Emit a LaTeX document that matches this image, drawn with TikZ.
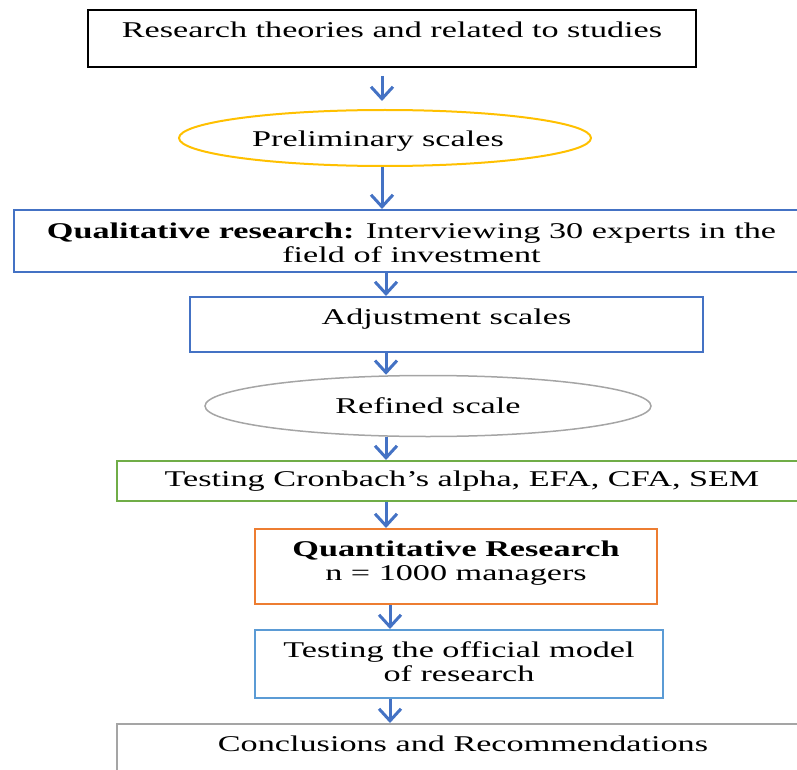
\documentclass[tikz,border=0pt]{standalone}
\usepackage{fontspec}
\setmainfont{Liberation Serif}[FakeStretch=1.52]
\usetikzlibrary{arrows.meta,shapes.geometric}
\definecolor{cblue}{HTML}{4472C4}
\definecolor{cgold}{HTML}{FFC000}
\definecolor{cgray}{HTML}{A5A5A5}
\definecolor{cgreen}{HTML}{70AD47}
\definecolor{corange}{HTML}{ED7D31}
\definecolor{clblue}{HTML}{5B9BD5}
\newcommand\boxtxt[4]{\parbox[t][#1][t]{#2}{\centering\rule{0pt}{#3}#4}}
\tikzset{
  every node/.style={font=\fontsize{22.5pt}{24pt}\selectfont},
  flowbox/.style={draw, line width=2pt, inner sep=0pt, anchor=north west},
  oval/.style={draw, ellipse, inner sep=0pt},
  arr/.style={draw=cblue, line width=3pt, -{Straight Barb[length=12pt,width=22pt]}}
}
\begin{document}
\begin{tikzpicture}[x=1pt,y=-1pt]
\useasboundingbox (0,0) rectangle (797,770);
\clip (0,0) rectangle (797,770);
\node[flowbox, draw=black] (b1) at (87,9) {\boxtxt{57pt}{608pt}{28pt}{Research theories and related to studies}};
\node[oval, draw=cgold, line width=2pt, minimum width=412pt, minimum height=56pt] (e1) at (385,138) {\raisebox{-3pt}[\height][\depth]{Preliminary scales}\hspace*{14pt}};
\node[flowbox, draw=cblue] (b3) at (13,209) {\boxtxt{62pt}{795pt}{28pt}{\textbf{Qualitative research:} Interviewing 30 experts in the\\ field of investment}};
\node[flowbox, draw=cblue] (b4) at (189,296) {\boxtxt{55pt}{513pt}{27pt}{Adjustment scales}};
\node[oval, draw=cgray, line width=1.5pt, minimum width=446pt, minimum height=61pt] (e2) at (428,406) {Refined scale};
\node[flowbox, draw=cgreen] (b6) at (116,460) {\boxtxt{40pt}{690pt}{25pt}{Testing Cronbach’s alpha, EFA, CFA, SEM}};
\node[flowbox, draw=corange] (b7) at (254,528) {\boxtxt{75pt}{402pt}{27pt}{\textbf{Quantitative Research}\\ n = 1000 managers}};
\node[flowbox, draw=clblue] (b8) at (254,629) {\boxtxt{68pt}{408pt}{27pt}{Testing the official model\\ of research}};
\node[flowbox, draw=cgray] (b9) at (116,723) {\boxtxt{80pt}{692pt}{27pt}{Conclusions and Recommendations}};
\coordinate (xa) at (382,0);
\coordinate (xb) at (386,0);
\coordinate (xc) at (390,0);
\draw[arr, shorten <=8pt, shorten >=8pt] (b1.south -| xa) -- (e1.north -| xa);
\draw[arr] (e1.south -| xa) -- (b3.north -| xa);
\draw[arr] (b3.south -| xb) -- (b4.north -| xb);
\draw[arr] (b4.south -| xb) -- (e2.north -| xb);
\draw[arr] (e2.south -| xb) -- (b6.north -| xb);
\draw[arr] (b6.south -| xb) -- (b7.north -| xb);
\draw[arr] (b7.south -| xc) -- (b8.north -| xc);
\draw[arr] (b8.south -| xc) -- (b9.north -| xc);
\end{tikzpicture}
\end{document}
